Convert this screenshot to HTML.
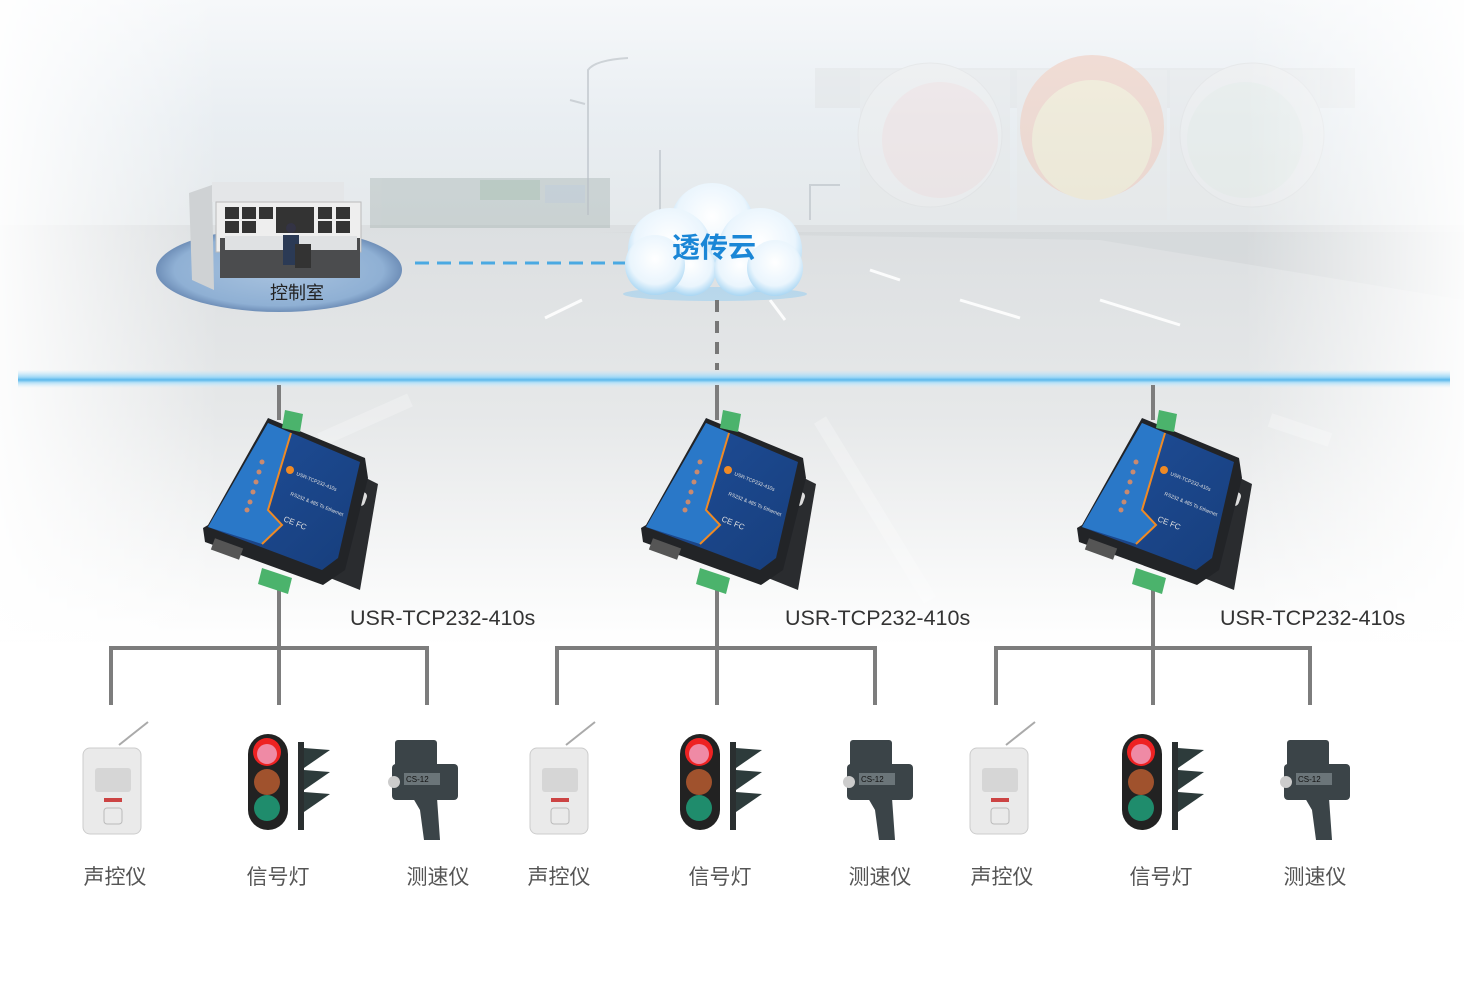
<!DOCTYPE html>
<html><head><meta charset="utf-8"><style>
html,body{margin:0;padding:0;background:#fff;}
svg{display:block}
text{font-family:"Liberation Sans","Noto Sans CJK SC",sans-serif}
</style></head><body>
<svg width="1464" height="989" viewBox="0 0 1464 989" xmlns="http://www.w3.org/2000/svg">
<defs>
<linearGradient id="sky" x1="0" y1="0" x2="0" y2="1">
<stop offset="0" stop-color="#f6f8fa"/><stop offset="0.5" stop-color="#e9eef2"/><stop offset="1" stop-color="#e4e8ea"/>
</linearGradient>
<linearGradient id="road" x1="0" y1="0" x2="0" y2="1">
<stop offset="0" stop-color="#dcdfe1"/><stop offset="0.45" stop-color="#e6e8e9"/><stop offset="1" stop-color="#ffffff"/>
</linearGradient>
<linearGradient id="fadeL" x1="0" y1="0" x2="1" y2="0">
<stop offset="0" stop-color="#fff" stop-opacity="0.9"/><stop offset="0.15" stop-color="#fff" stop-opacity="0"/><stop offset="0.85" stop-color="#fff" stop-opacity="0"/><stop offset="1" stop-color="#fff" stop-opacity="0.9"/>
</linearGradient>
<linearGradient id="glow" x1="0" y1="0" x2="0" y2="1">
<stop offset="0" stop-color="#bfe6fb" stop-opacity="0"/><stop offset="0.4" stop-color="#9fd8f6"/><stop offset="0.55" stop-color="#5bb8ec"/><stop offset="0.7" stop-color="#b5e0f7"/><stop offset="1" stop-color="#d8f0fc" stop-opacity="0"/>
</linearGradient>
<radialGradient id="cloud" cx="0.5" cy="0.4" r="0.6">
<stop offset="0" stop-color="#ffffff"/><stop offset="0.7" stop-color="#eaf5fd"/><stop offset="1" stop-color="#a9d6f3"/>
</radialGradient>
<radialGradient id="plat" cx="0.5" cy="0.5" r="0.5">
<stop offset="0" stop-color="#a9c3df"/><stop offset="0.85" stop-color="#8fb0d4"/><stop offset="1" stop-color="#6f8fb8"/>
</radialGradient>
<linearGradient id="blueface" x1="0" y1="0" x2="1" y2="1">
<stop offset="0" stop-color="#1f4f9a"/><stop offset="1" stop-color="#173e7c"/>
</linearGradient>
<g id="dev">
<polygon points="350,470 378,484 360,590 330,578" fill="#2a2c2f"/>
<rect x="358" y="492" width="8" height="14" rx="4" fill="#ddd" transform="rotate(20 362 499)"/>
<rect x="338" y="555" width="8" height="14" rx="4" fill="#ddd" transform="rotate(20 342 562)"/>
<polygon points="268,418 365,458 368,478 345,570 323,585 205,542 203,528 208,525" fill="#222427"/>
<polygon points="268,423 360,462 338,558 322,570 208,527 212,520" fill="url(#blueface)"/>
<polygon points="268,423 291,433 268,510 282,525 262,544 208,527" fill="#2a78c8"/>
<path d="M291,433 L268,510 L282,525 L262,544" stroke="#f08a24" stroke-width="2" fill="none"/>
<circle cx="290" cy="470" r="4" fill="#f08a24"/>
<g fill="#e0e0e0" font-size="5"><text x="296" y="475" transform="rotate(22 296 475)">USR-TCP232-410s</text>
<text x="290" y="495" transform="rotate(22 290 495)">RS232 &amp; 485 To Ethernet</text>
<text x="283" y="521" font-size="8" transform="rotate(22 283 521)">CE FC</text></g>
<g fill="#c98a70"><circle cx="262" cy="462" r="2.5"/><circle cx="259" cy="472" r="2.5"/><circle cx="256" cy="482" r="2.5"/><circle cx="253" cy="492" r="2.5"/><circle cx="250" cy="502" r="2.5"/><circle cx="247" cy="510" r="2.5"/></g>
<polygon points="285,410 303,414 300,432 282,428" fill="#4bb36c"/>
<polygon points="262,568 292,578 288,594 258,584" fill="#4bb36c"/>
<rect x="212" y="543" width="30" height="12" fill="#555" transform="rotate(20 227 549)"/>
</g>
<g id="pir">
<line x1="119" y1="745" x2="148" y2="722" stroke="#aaa" stroke-width="2"/>
<rect x="83" y="748" width="58" height="86" rx="7" fill="#eaeaea" stroke="#ccc"/>
<rect x="95" y="768" width="36" height="24" rx="3" fill="#d6d6d6"/>
<rect x="104" y="808" width="18" height="16" rx="3" fill="none" stroke="#bbb"/>
<rect x="104" y="798" width="18" height="4" fill="#c44"/>
</g>
<g id="tl">
<rect x="248" y="734" width="40" height="96" rx="20" fill="#222"/>
<circle cx="267" cy="752" r="14" fill="#e22"/><circle cx="267" cy="754" r="10" fill="#ef8aa5"/>
<circle cx="267" cy="782" r="13" fill="#a0522d"/>
<circle cx="267" cy="808" r="13" fill="#1f8c6c"/>
<rect x="298" y="742" width="6" height="88" fill="#2a2f30"/>
<polygon points="304,748 330,750 304,768" fill="#2d3b3b"/><polygon points="304,770 330,772 304,790" fill="#2d3b3b"/><polygon points="304,792 330,794 304,812" fill="#2d3b3b"/>
</g>
<g id="gun">
<rect x="395" y="740" width="42" height="32" rx="3" fill="#3b4448"/>
<rect x="392" y="764" width="66" height="36" rx="4" fill="#3b4448"/>
<circle cx="394" cy="782" r="6" fill="#ccc"/>
<rect x="404" y="773" width="36" height="12" fill="#6b7579"/>
<text x="406" y="782" font-size="8" fill="#111">CS-12</text>
<polygon points="413,798 437,798 440,840 424,840 420,810" fill="#3b4448"/>
</g>
</defs>

<rect width="1464" height="989" fill="#fff"/>
<rect width="1464" height="240" fill="url(#sky)"/>
<rect y="225" width="1464" height="420" fill="url(#road)"/>
<g opacity="0.35">
<rect x="370" y="178" width="240" height="50" fill="#9aa9a6"/>
<rect x="480" y="180" width="60" height="20" fill="#6a8f78"/>
<rect x="545" y="185" width="40" height="18" fill="#8aa0b0"/>
</g>
<polygon points="600,232 1464,232 1464,300 1100,240" fill="#cfd3d5" opacity="0.5"/>
<g stroke="#fff" stroke-width="3" opacity="0.9">
<line x1="545" y1="318" x2="582" y2="300"/><line x1="770" y1="300" x2="785" y2="320"/>
<line x1="870" y1="270" x2="900" y2="280"/><line x1="960" y1="300" x2="1020" y2="318"/>
<line x1="1100" y1="300" x2="1180" y2="325"/>
</g>
<g opacity="0.25" stroke="#fff" stroke-width="14">
<line x1="320" y1="440" x2="410" y2="400"/><line x1="820" y1="420" x2="930" y2="600"/>
<line x1="1270" y1="420" x2="1330" y2="440"/>
</g>
<g opacity="0.45">
<rect x="815" y="68" width="540" height="40" fill="#e0e3e5"/>
<rect x="860" y="70" width="150" height="150" fill="#e6e8e8"/>
<rect x="1017" y="70" width="150" height="150" fill="#e6e8e8"/>
<rect x="1170" y="70" width="150" height="150" fill="#e6e8e8"/>
<circle cx="930" cy="135" r="72" fill="#eee" stroke="#ddd"/>
<circle cx="940" cy="140" r="58" fill="#f1dede"/>
<circle cx="1092" cy="127" r="72" fill="#f2c2ae"/>
<circle cx="1092" cy="140" r="60" fill="#f5e7c0"/>
<circle cx="1252" cy="135" r="72" fill="#eee" stroke="#ddd"/>
<circle cx="1245" cy="140" r="58" fill="#e4ebe6"/>
</g>
<rect width="1464" height="640" fill="url(#fadeL)"/>
<g stroke="#b8bec4" stroke-width="2" opacity="0.6" fill="none">
<path d="M588,215 V70 Q595,60 628,58"/><path d="M570,100 l15,4"/>
<path d="M660,210 V150"/><path d="M810,220 V185 h30"/>
</g>

<ellipse cx="279" cy="270" rx="123" ry="42" fill="url(#plat)"/>
<polygon points="189,193 212,185 214,290 192,280" fill="#cfd2d4"/>
<rect x="212" y="182" width="132" height="20" fill="#e4e6e8"/>
<rect x="216" y="202" width="145" height="50" fill="#eee" stroke="#bbb"/>
<g fill="#333"><rect x="225" y="207" width="14" height="12"/><rect x="242" y="207" width="14" height="12"/><rect x="259" y="207" width="14" height="12"/><rect x="276" y="207" width="38" height="26"/><rect x="318" y="207" width="14" height="12"/><rect x="336" y="207" width="14" height="12"/>
<rect x="225" y="221" width="14" height="12"/><rect x="242" y="221" width="14" height="12"/><rect x="318" y="221" width="14" height="12"/><rect x="336" y="221" width="14" height="12"/></g>
<rect x="220" y="238" width="140" height="40" fill="#4b4c4e"/>
<rect x="225" y="236" width="132" height="14" fill="#dfe1e3"/>
<circle cx="291" cy="228" r="5" fill="#334"/><rect x="283" y="235" width="16" height="30" fill="#2b3a55"/>
<rect x="295" y="244" width="16" height="24" fill="#333"/>
<text x="297" y="299" text-anchor="middle" font-size="18" fill="#222">控制室</text>

<line x1="415" y1="263" x2="625" y2="263" stroke="#4aa9e2" stroke-width="3" stroke-dasharray="14,8"/>
<ellipse cx="715" cy="294" rx="92" ry="7" fill="#9fd0f0" opacity="0.6"/>
<g fill="url(#cloud)">
<circle cx="712" cy="225" r="42"/><circle cx="670" cy="250" r="42"/><circle cx="760" cy="250" r="42"/>
<circle cx="690" cy="270" r="26"/><circle cx="740" cy="270" r="26"/><circle cx="655" cy="265" r="30"/><circle cx="775" cy="268" r="28"/>
</g>
<text x="714" y="257" text-anchor="middle" font-size="28" fill="#1a86d6" font-weight="bold">透传云</text>
<line x1="717" y1="300" x2="717" y2="370" stroke="#777" stroke-width="4" stroke-dasharray="12,9"/>

<rect x="18" y="370" width="1432" height="18" fill="url(#glow)"/>

<g stroke="#7d7d7d" stroke-width="4" fill="none">
<line x1="279" y1="385" x2="279" y2="420"/><line x1="717" y1="385" x2="717" y2="420"/><line x1="1153" y1="385" x2="1153" y2="420"/>
<line x1="279" y1="585" x2="279" y2="705"/><line x1="717" y1="585" x2="717" y2="705"/><line x1="1153" y1="585" x2="1153" y2="705"/>
<path d="M111,705 V648 H427 V705"/><path d="M557,705 V648 H875 V705"/><path d="M996,705 V648 H1310 V705"/>
</g>

<use href="#dev"/>
<use href="#dev" x="438"/>
<use href="#dev" x="874"/>

<g font-size="21.5" fill="#333">
<text x="350" y="625">USR-TCP232-410s</text>
<text x="785" y="625">USR-TCP232-410s</text>
<text x="1220" y="625">USR-TCP232-410s</text>
</g>

<use href="#pir"/><use href="#pir" x="447"/><use href="#pir" x="887"/>
<use href="#tl"/><use href="#tl" x="432"/><use href="#tl" x="874"/>
<use href="#gun"/><use href="#gun" x="455"/><use href="#gun" x="892"/>

<g font-size="21" fill="#555" text-anchor="middle">
<text x="115" y="884">声控仪</text><text x="278" y="884">信号灯</text><text x="438" y="884">测速仪</text>
<text x="559" y="884">声控仪</text><text x="720" y="884">信号灯</text><text x="880" y="884">测速仪</text>
<text x="1002" y="884">声控仪</text><text x="1161" y="884">信号灯</text><text x="1315" y="884">测速仪</text>
</g>
</svg>
</body></html>
